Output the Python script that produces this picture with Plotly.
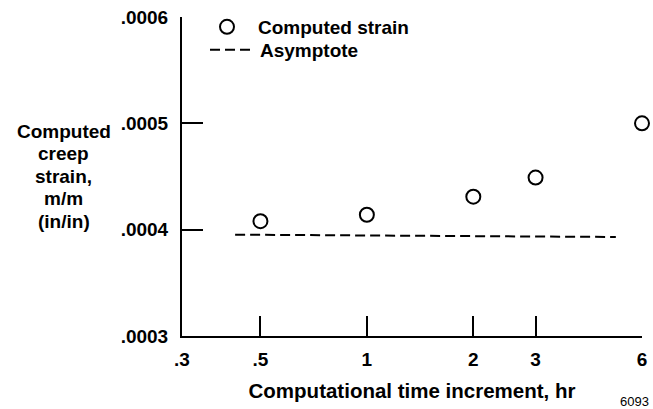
import plotly.graph_objects as go

# Data
time_increment_hr = [0.5, 1, 2, 3, 6]
computed_strain = [0.000408, 0.000414, 0.000431, 0.000449, 0.000500]

asymptote_x = [0.424, 5.06]
asymptote_y = [0.0003953, 0.0003931]

x_tickvals = [0.3, 0.5, 1, 2, 3, 6]
x_ticktext = [".3", ".5", "1", "2", "3", "6"]
y_tickvals = [0.0003, 0.0004, 0.0005, 0.0006]
y_ticktext = [".0003", ".0004", ".0005", ".0006"]

y_label_lines = ["Computed", "creep", "strain,", "m/m", "(in/in)"]
x_label = "Computational time increment, hr"

W, H = 653, 409
L, R, T, B = 182, 11, 17, 73
PW, PH = W - L - R, H - T - B

FONT = "Liberation Sans, Arial, Helvetica, sans-serif"
bold = dict(family=FONT, size=19, color="black", weight="bold")


def px_x(px):
    return (px - L) / PW


def px_y(py):
    return (H - B - py) / PH


fig = go.Figure()
fig.add_trace(go.Scatter(
    x=time_increment_hr, y=computed_strain, mode="markers",
    name="Computed strain", legend="legend",
    marker=dict(symbol="circle-open", size=14, color="black", line=dict(width=2, color="black")),
    cliponaxis=False,
))
fig.add_trace(go.Scatter(
    x=asymptote_x, y=asymptote_y, mode="lines", name="Asymptote", legend="legend2",
    line=dict(color="black", width=2, dash="10px,5px"),
))

legend_common = dict(xanchor="left", yanchor="middle", bgcolor="rgba(0,0,0,0)",
                     font=bold, borderwidth=0)

fig.update_layout(
    width=W, height=H,
    margin=dict(l=L, r=R, t=T, b=B, autoexpand=False),
    paper_bgcolor="white", plot_bgcolor="white",
    font=bold,
    showlegend=True,
    legend=dict(x=px_x(196), y=px_y(27), itemwidth=52, **legend_common),
    legend2=dict(x=px_x(205), y=px_y(50), itemwidth=45, **legend_common),
    xaxis=dict(
        type="log",
        range=[-0.5228787, 0.7781513],
        tickvals=x_tickvals, ticktext=x_ticktext,
        ticks="inside", ticklen=20, tickwidth=2, tickcolor="black",
        showline=True, linewidth=2, linecolor="black",
        showgrid=False, zeroline=False, automargin=False,
        tickfont=bold, ticklabelstandoff=5,
        title=dict(text=x_label, font=dict(family=FONT, size=20.5, color="black", weight="bold"),
                   standoff=15),
    ),
    yaxis=dict(
        range=[0.0003, 0.0006],
        tickvals=y_tickvals, ticktext=y_ticktext,
        ticks="inside", ticklen=21, tickwidth=2, tickcolor="black",
        showline=True, linewidth=2, linecolor="black",
        showgrid=False, zeroline=False, automargin=False,
        tickfont=bold, ticklabelstandoff=8,
    ),
)

for i, line in enumerate(y_label_lines):
    fig.add_annotation(
        text=line, xref="paper", yref="paper",
        x=px_x(64), y=px_y(131 + 22.5 * i),
        xanchor="center", yanchor="middle", showarrow=False,
        font=dict(family=FONT, size=19, color="black", weight="bold"),
    )

fig.add_annotation(
    text="6093", xref="paper", yref="paper",
    x=px_x(651), y=px_y(401),
    xanchor="right", yanchor="middle", showarrow=False,
    font=dict(family=FONT, size=13, color="black", weight="normal"),
)

fig.write_html("out.html", config={"displayModeBar": False},
               post_script="document.body.style.margin='0';")
